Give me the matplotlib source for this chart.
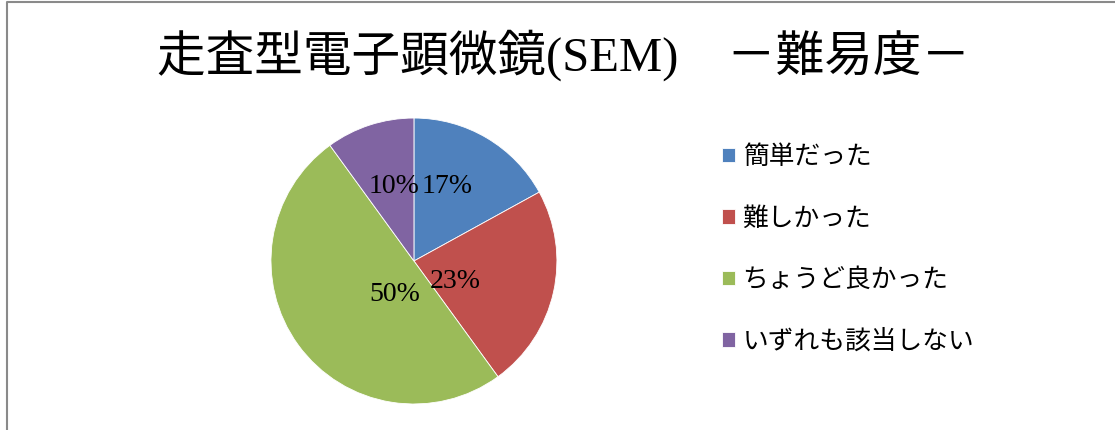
import matplotlib.pyplot as plt
from matplotlib.lines import Line2D
import numpy as np

plt.rcParams['font.family'] = ['Liberation Serif', 'Noto Sans CJK JP']

labels = ['簡単だった', '難しかった', 'ちょうど良かった', 'いずれも該当しない']
values = [17, 23, 50, 10]
colors = ['#4F81BD', '#C0504D', '#9BBB59', '#8064A2']
title = '走査型電子顕微鏡(SEM)　－難易度－'

# percent label placement: radius fraction and angle shift from wedge middle
pct_r = [0.57, 0.32, 0.27, 0.54]
pct_shift = [6.5, -13.5, 24, -3]

fig = plt.figure(figsize=(11.15, 4.30), dpi=100)
ax = fig.add_axes([0.243, 0.0605, 0.2565, 0.665])

wedges, texts, autotexts = ax.pie(values, colors=colors, startangle=90, counterclock=False,
                                  autopct='%d%%', pctdistance=0.5,
                                  wedgeprops=dict(edgecolor='white', linewidth=0.6))
for w, t, r, s in zip(wedges, autotexts, pct_r, pct_shift):
    a = np.deg2rad((w.theta1 + w.theta2) / 2 + s)
    t.set_position((r * np.cos(a), r * np.sin(a)))
    t.set_fontsize(20)
    t.set_color('black')
ax.set_aspect('equal')
ax.set_xlim(-1, 1)
ax.set_ylim(-1, 1)

fig.text(0.505, 0.872, title, ha='center', va='center', fontsize=35)

fig.legend(wedges, labels, loc='center left', bbox_to_anchor=(0.6475, 0.42),
           frameon=False, handlelength=0.5, handleheight=0.5,
           handletextpad=0.3, labelspacing=1.38, borderpad=0, borderaxespad=0,
           prop={'family': 'Noto Sans CJK JP', 'size': 18.5})

# chart border (left and top visible)
fig.add_artist(Line2D([7 / 1115, 7 / 1115, 1], [0, 1 - 2 / 430, 1 - 2 / 430],
                      transform=fig.transFigure, color='#8a8a8a', linewidth=1.5))

fig.savefig('out.png', dpi=100)
